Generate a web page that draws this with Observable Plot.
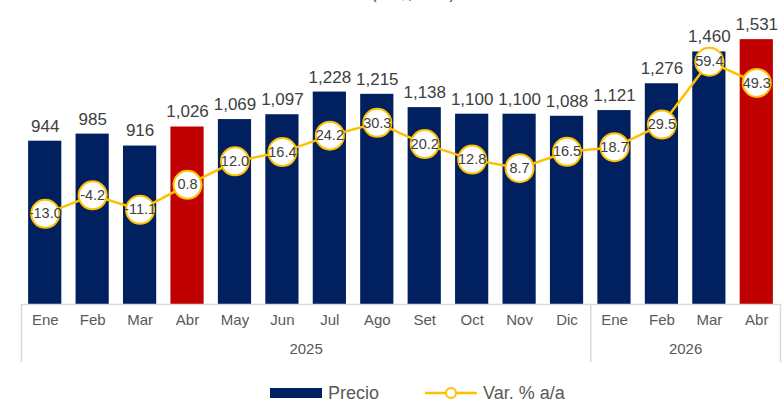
<!DOCTYPE html>
<html>
<head>
<meta charset="utf-8">
<script src="https://cdn.jsdelivr.net/npm/d3@7"></script>
<script src="https://cdn.jsdelivr.net/npm/@observablehq/plot@0.6"></script>
<style>
  html, body { margin: 0; padding: 0; background: #fff; }
  #wrap { position: relative; width: 784px; height: 404px; overflow: hidden; font-family: "Liberation Sans", Arial, sans-serif; }
  #title { position: absolute; top: -14px; left: 0; width: 784px; padding-left: 42px; box-sizing: border-box; text-align: center; font-size: 16px; color: #404040; height: 19px; line-height: 16px; }
  #titleclip { position: absolute; top: 0; left: 0; width: 784px; height: 8px; overflow: hidden; }
  #chart { position: absolute; top: 8px; left: 0; }
  .leg { position: absolute; top: 381px; font-size: 18px; color: #595959; display: flex; align-items: center; height: 24px; }
</style>
</head>
<body>
<div id="wrap">
  <div id="titleclip"><div id="title">(US$, FOB)</div></div>
  <div id="chart"></div>
  <div class="leg" style="left:270px;"><span style="display:inline-block;width:52px;height:10px;background:#002060;margin-right:6px;"></span>Precio</div>
  <div class="leg" style="left:424px;"><svg width="54" height="14" style="margin-right:5px;"><line x1="1" y1="7" x2="53" y2="7" stroke="#FFC000" stroke-width="2.5"/><circle cx="27" cy="7" r="5" fill="white" stroke="#FFC000" stroke-width="2"/></svg>Var. % a/a</div>
</div>
<script>
const meses = ["Ene","Feb","Mar","Abr","May","Jun","Jul","Ago","Set","Oct","Nov","Dic","Ene","Feb","Mar","Abr"];
const anios = [2025,2025,2025,2025,2025,2025,2025,2025,2025,2025,2025,2025,2026,2026,2026,2026];
const precio = [944,985,916,1026,1069,1097,1228,1215,1138,1100,1100,1088,1121,1276,1460,1531];
const variacion = [-13.0,-4.2,-11.1,0.8,12.0,16.4,24.2,30.3,20.2,12.8,8.7,16.5,18.7,29.5,59.4,49.3];

const NAVY = "#002060", RED = "#C00000", GOLD = "#FFC000";
const rows = meses.map((m, i) => ({i, mes: m, anio: anios[i], precio: precio[i], variacion: variacion[i]}));

// secondary axis mapping for the % line onto the price scale
const Y_MAX = 1711, PLOT_H = 296;
const pxPerUnit = PLOT_H / Y_MAX;
const LINE_ZERO_PX = 118;   // px above baseline where 0% sits
const LINE_PX_PER_PCT = 2.1;
const lineY = v => (LINE_ZERO_PX + v * LINE_PX_PER_PCT) / pxPerUnit;
const AXIS_DEPTH = -58 / pxPerUnit;

const years = Array.from(d3.group(rows, d => d.anio), ([anio, g]) => ({anio, x: d3.mean(g, d => d.i)}));
const separators = [-0.5, ...Array.from(d3.group(rows, d => d.anio).values()).map(g => d3.max(g, d => d.i) + 0.5)];

const chart = Plot.plot({
  width: 784, height: 362,
  marginLeft: 21, marginRight: 4, marginTop: 0, marginBottom: 66,
  x: {type: "linear", domain: [-0.5, rows.length - 0.5], axis: null},
  y: {domain: [0, Y_MAX], axis: null},
  style: {fontFamily: "'Liberation Sans', Arial, sans-serif", background: "white", overflow: "visible"},
  marks: [
    Plot.rect(rows, {x1: d => d.i - 0.35, x2: d => d.i + 0.35, y1: 0, y2: "precio", fill: d => d.mes === "Abr" ? RED : NAVY}),
    Plot.ruleY([0], {x1: -0.5, x2: rows.length - 0.5, stroke: "#d9d9d9", strokeWidth: 1.5}),
    Plot.ruleX(separators, {x: d => d, y1: 0, y2: AXIS_DEPTH, stroke: "#d9d9d9", strokeWidth: 1.5}),
    Plot.text(rows, {x: "i", y: "precio", text: d => d3.format(",")(d.precio), dy: -15, fontSize: 17, fill: "#404040"}),
    Plot.line(rows, {x: "i", y: d => lineY(d.variacion), stroke: GOLD, strokeWidth: 2.5}),
    Plot.dot(rows, {x: "i", y: d => lineY(d.variacion), r: 14, fill: "white", stroke: GOLD, strokeWidth: 2}),
    Plot.text(rows, {x: "i", y: d => lineY(d.variacion), text: d => d.variacion.toFixed(1), fontSize: 14.5, fill: "#404040"}),
    Plot.text(rows, {x: "i", text: "mes", frameAnchor: "bottom", dy: 20, fontSize: 15, fill: "#595959"}),
    Plot.text(years, {x: "x", text: d => String(d.anio), frameAnchor: "bottom", dy: 49, fontSize: 15, fill: "#595959"})
  ]
});
document.getElementById("chart").appendChild(chart);
</script>
</body>
</html>
